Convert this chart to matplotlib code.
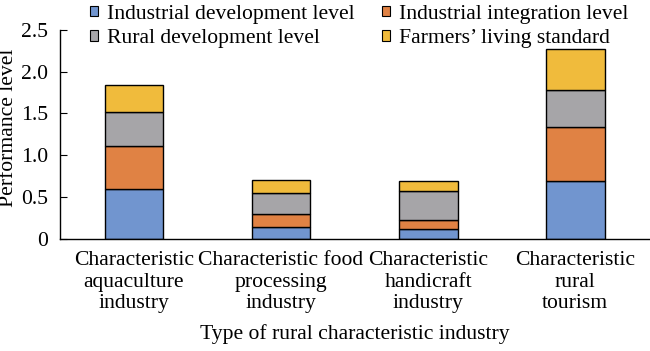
import numpy as np
import matplotlib
matplotlib.use('Agg')
from matplotlib import pyplot as plt
from matplotlib.patches import Patch

plt.rcParams['font.family'] = ['Liberation Serif', 'DejaVu Serif']

categories = ['Characteristic\naquaculture\nindustry',
              'Characteristic food\nprocessing\nindustry',
              'Characteristic\nhandicraft\nindustry',
              'Characteristic\nrural\ntourism']
series_names = ['Industrial development level', 'Industrial integration level',
                'Rural development level', 'Farmers\u2019 living standard']
industrial_dev = [0.59, 0.14, 0.12, 0.69]
industrial_int = [0.52, 0.15, 0.10, 0.65]
rural_dev = [0.41, 0.26, 0.35, 0.44]
farmers_living = [0.32, 0.15, 0.12, 0.49]
colors = ['#7195cf', '#e08244', '#a6a5a8', '#f0bb3c']

fs = 15.6

fig, ax = plt.subplots(figsize=(6.5, 3.51), dpi=100)
fig.subplots_adjust(left=0.093, right=0.998, top=0.915, bottom=0.32)

x = np.arange(len(categories))
bottom = np.zeros(len(categories))
for vals, col in zip([industrial_dev, industrial_int, rural_dev, farmers_living], colors):
    ax.bar(x, vals, 0.4, bottom=bottom, color=col, edgecolor='black', linewidth=1.0)
    bottom += np.array(vals)

ax.set_xlim(-0.5, len(categories) - 0.5)
ax.set_ylim(0, 2.5)
ax.set_yticks([0, 0.5, 1.0, 1.5, 2.0, 2.5])
ax.set_yticklabels(['0', '0.5', '1.0', '1.5', '2.0', '2.5'])
ax.set_xticks(x)
ax.set_xticklabels(categories, linespacing=1.17)
ax.tick_params(axis='y', direction='in', length=5, labelsize=fs, pad=9)
ax.tick_params(axis='x', length=0, labelsize=fs, pad=9)
for s in ['top', 'right']:
    ax.spines[s].set_visible(False)
ax.spines['left'].set_linewidth(1.0)
ax.spines['bottom'].set_linewidth(1.0)
ax.set_ylabel('Performance level', fontsize=fs)
ax.yaxis.set_label_coords(-0.072, 0.53)
ax.set_xlabel('Type of rural characteristic industry', fontsize=fs, labelpad=8)

# legend fills column-wise, so order handles to get the reference row layout
order = [0, 2, 1, 3]
handles = [Patch(facecolor=colors[i], edgecolor='black', linewidth=0.8) for i in order]
labels = [series_names[i] for i in order]
fig.legend(handles, labels, loc='upper left', bbox_to_anchor=(0.115, 1.03), ncol=2,
           frameon=False, fontsize=fs, handlelength=0.38, handleheight=0.38,
           handletextpad=0.42, columnspacing=1.25, labelspacing=0.25, borderpad=0.2)

fig.savefig('out.png', dpi=100)
